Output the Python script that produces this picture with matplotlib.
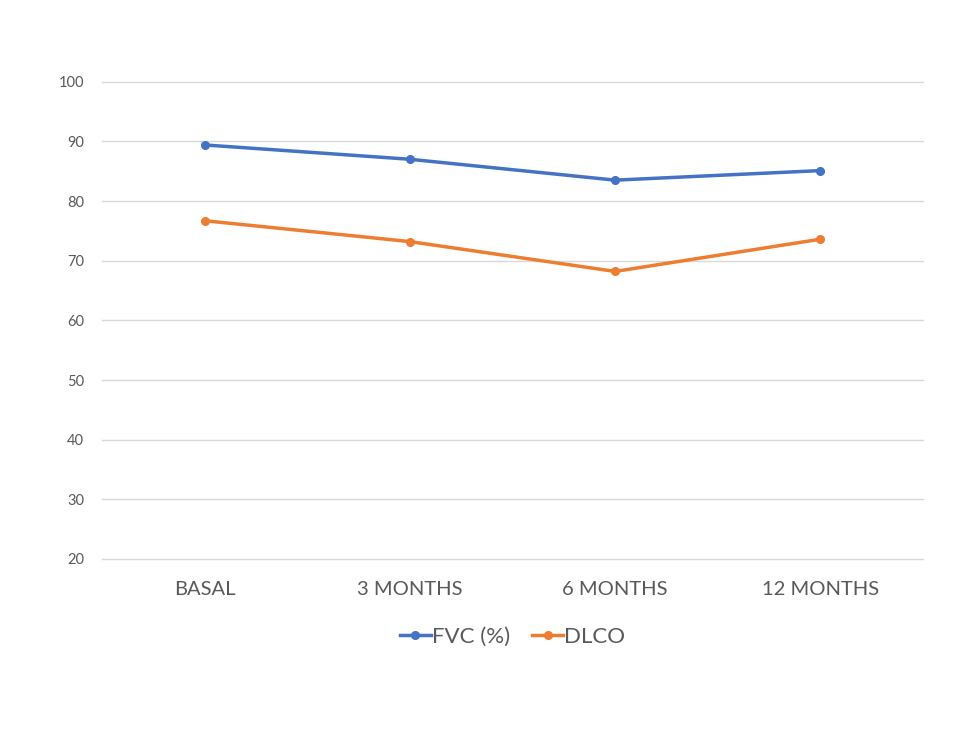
import matplotlib.pyplot as plt

categories = ['BASAL', '3 MONTHS', '6 MONTHS', '12 MONTHS']
fvc = [89.4, 87.0, 83.5, 85.1]
dlco = [76.7, 73.2, 68.2, 73.6]

plt.rcParams['font.family'] = ['Lato', 'DejaVu Sans']

fig = plt.figure(figsize=(9.78, 7.46), dpi=100)
W, H = 978, 746
ax = fig.add_axes([102 / W, 1 - 559 / H, (923 - 102) / W, (559 - 81.7) / H])

x = range(len(categories))
ax.plot(x, fvc, color='#4472C4', lw=2.5, marker='o', ms=5.5, label='FVC (%)')
ax.plot(x, dlco, color='#ED7D31', lw=2.5, marker='o', ms=5.5, label='DLCO')

ax.set_xlim(-0.5, 3.5)
ax.set_ylim(20, 100)
ax.set_yticks(range(20, 101, 10))
ax.set_xticks(list(x))
ax.set_xticklabels(categories, fontsize=14.5, color='#595959')
ax.tick_params(axis='y', labelsize=10.5, colors='#595959', length=0, pad=13)
ax.tick_params(axis='x', length=0, pad=16)
ax.grid(axis='y', color='#D9D9D9', lw=1)
for line in ax.get_ygridlines():
    line.set_clip_on(False)
ax.set_axisbelow(True)
for s in ax.spines.values():
    s.set_visible(False)

leg = ax.legend(loc='upper center', bbox_to_anchor=(0.5, -0.1), ncol=2, frameon=False,
                fontsize=16, handlelength=1.4, columnspacing=1.0, handletextpad=0.05)
for t in leg.get_texts():
    t.set_color('#595959')

fig.savefig('out.png', dpi=100)
